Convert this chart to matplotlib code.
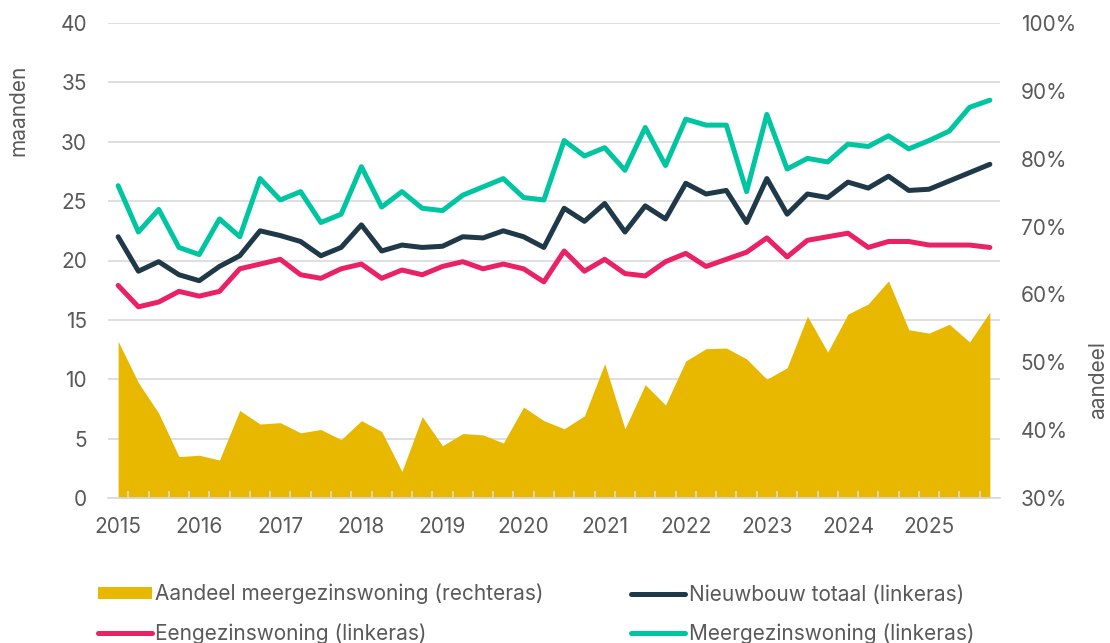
import matplotlib.pyplot as plt
from matplotlib.patches import Patch
from matplotlib.lines import Line2D
import numpy as np

plt.rcParams['font.family'] = ['Inter', 'DejaVu Sans']

# kwartalen 2015-Q1 t/m 2025-Q4
jaren = list(range(2015, 2026))
kwartalen = [f"{j}-Q{q}" for j in jaren for q in range(1, 5)]

# looptijd in maanden (linkeras)
totaal = [22.0, 19.1, 19.9, 18.8, 18.3, 19.5, 20.4, 22.5, 22.1, 21.6,
          20.4, 21.1, 23.0, 20.8, 21.3, 21.1, 21.2, 22.0, 21.9, 22.5,
          22.0, 21.1, 24.4, 23.3, 24.8, 22.4, 24.6, 23.5, 26.5, 25.6,
          25.9, 23.2, 26.9, 23.9, 25.6, 25.3, 26.6, 26.1, 27.1, 25.9,
          26.0, 26.7, 27.4, 28.1]
eengezins = [17.9, 16.1, 16.5, 17.4, 17.0, 17.4, 19.3, 19.7, 20.1, 18.8,
             18.5, 19.3, 19.7, 18.5, 19.2, 18.8, 19.5, 19.9, 19.3, 19.7,
             19.3, 18.2, 20.8, 19.1, 20.1, 18.9, 18.7, 19.9, 20.6, 19.5,
             20.1, 20.7, 21.9, 20.3, 21.7, 22.0, 22.3, 21.1, 21.6, 21.6,
             21.3, 21.3, 21.3, 21.1]
meergezins = [26.3, 22.4, 24.3, 21.1, 20.5, 23.5, 22.0, 26.9, 25.1, 25.8,
              23.2, 23.9, 27.9, 24.5, 25.8, 24.4, 24.2, 25.5, 26.2, 26.9,
              25.3, 25.1, 30.1, 28.8, 29.5, 27.6, 31.2, 28.0, 31.9, 31.4,
              31.4, 25.8, 32.3, 27.7, 28.6, 28.3, 29.8, 29.6, 30.5, 29.4,
              30.1, 30.9, 32.9, 33.5]
# aandeel meergezinswoning in % (rechteras)
aandeel = [53.1, 47.0, 42.5, 36.1, 36.3, 35.6, 42.9, 40.9, 41.1, 39.6,
           40.1, 38.6, 41.4, 39.8, 33.9, 42.0, 37.7, 39.5, 39.3, 38.1,
           43.4, 41.4, 40.2, 42.1, 49.8, 40.2, 46.7, 43.7, 50.2, 52.0,
           52.1, 50.5, 47.5, 49.2, 56.8, 51.5, 57.1, 58.6, 62.0, 54.8,
           54.3, 55.6, 53.0, 57.4]

GEEL = '#E8B800'
DONKER = '#1F3949'
ROZE = '#EA2263'
GROEN = '#00C5A1'
GRIJS = '#D9D9D9'
TEKST = '#595959'

x = np.arange(len(kwartalen))

fig = plt.figure(figsize=(11.1, 6.43), dpi=100)
ax = fig.add_axes([108 / 1110, 1 - 498 / 643, 892 / 1110, 475 / 643])
ax2 = ax.twinx()

# vlak op de rechteras, maar getekend in ax zodat het tussen raster en lijnen ligt
ax.fill_between(x, 30, aandeel, color=GEEL, linewidth=0,
                transform=ax2.transData, zorder=1)

lw = 3.6
ax.plot(x, eengezins, color=ROZE, lw=lw, solid_capstyle='round', zorder=2)
ax.plot(x, totaal, color=DONKER, lw=lw, solid_capstyle='round', zorder=2)
ax.plot(x, meergezins, color=GROEN, lw=lw, solid_capstyle='round', zorder=2)

ax.set_xlim(-0.5, len(x) - 0.5)
ax.set_ylim(0, 40)
ax.set_yticks(range(0, 41, 5))
ax2.set_ylim(30, 100)
ax2.set_yticks(range(30, 101, 10))
ax2.set_yticklabels([f"{v}%" for v in range(30, 101, 10)])

ax.grid(axis='y', color=GRIJS, lw=1.2)
ax.yaxis.set_zorder(0.5)
ax.xaxis.set_zorder(2.5)

ax.set_xticks(x[::4])
ax.set_xticklabels([str(j) for j in jaren])
ax.set_xticks(np.arange(0.5, len(x) - 0.5, 1), minor=True)
ax.tick_params(axis='x', which='major', length=0, pad=14, labelsize=15, labelcolor=TEKST)
ax.tick_params(axis='x', which='minor', direction='in', length=5, width=1.2, color=GRIJS)
ax.tick_params(axis='y', length=0, pad=15, labelsize=15, labelcolor=TEKST)
ax2.tick_params(axis='y', length=0, pad=15, labelsize=15, labelcolor=TEKST)

for a in (ax, ax2):
    for s in a.spines.values():
        s.set_visible(False)
ax.spines['bottom'].set_visible(True)
ax.spines['bottom'].set_color(GRIJS)
ax.spines['bottom'].set_linewidth(1.2)

fig.text(18 / 1110, 1 - 110 / 643, 'maanden', rotation=90, ha='center', va='center',
         fontsize=15, color=TEKST)
fig.text(1098 / 1110, 1 - 380 / 643, 'aandeel', rotation=90, ha='center', va='center',
         fontsize=15, color=TEKST)

handles = [
    Patch(facecolor=GEEL, edgecolor='none'),
    Line2D([], [], color=ROZE, lw=lw, solid_capstyle='round'),
    Line2D([], [], color=DONKER, lw=lw, solid_capstyle='round'),
    Line2D([], [], color=GROEN, lw=lw, solid_capstyle='round'),
]
labels = ['Aandeel meergezinswoning (rechteras)', 'Eengezinswoning (linkeras)',
          'Nieuwbouw totaal (linkeras)', 'Meergezinswoning (linkeras)']
leg = fig.legend(handles, labels, ncol=2, loc='upper left',
                 bbox_to_anchor=(98 / 1110, 1 - 584 / 643), frameon=False,
                 fontsize=15, labelcolor=TEKST, handlelength=2.6, handleheight=0.55,
                 handletextpad=0.15, columnspacing=4.2, labelspacing=0.9,
                 borderpad=0, borderaxespad=0)

fig.savefig('out.png', dpi=100)
